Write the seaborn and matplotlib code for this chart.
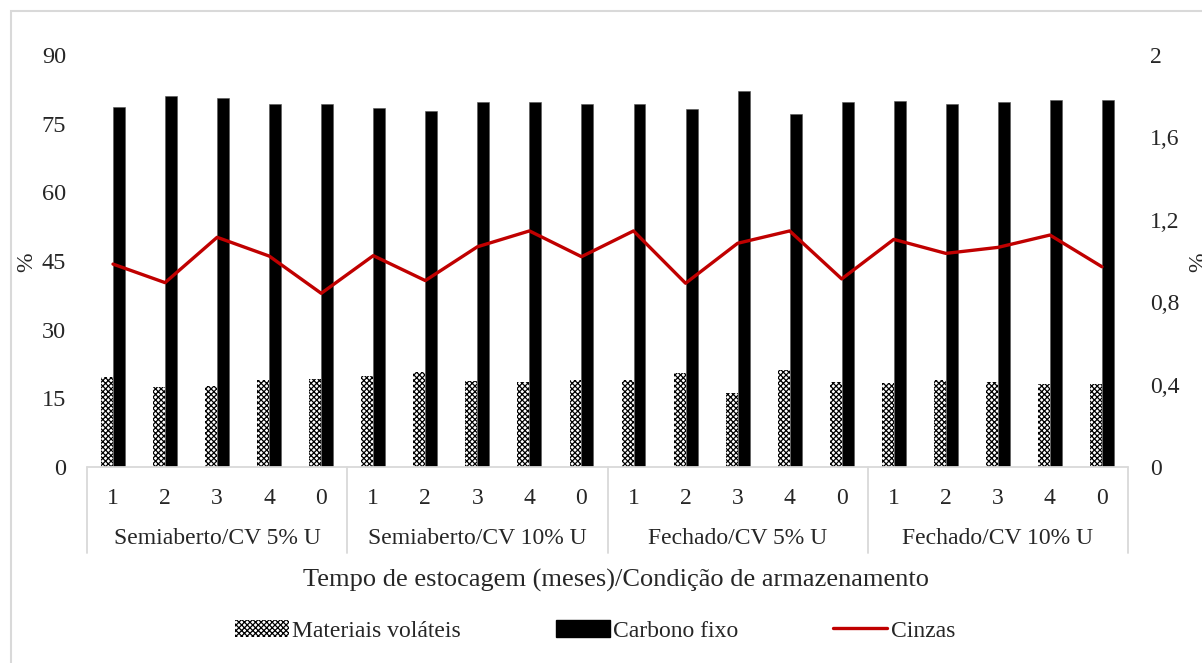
import numpy as np
import pandas as pd
import matplotlib
matplotlib.use("Agg")
import matplotlib.pyplot as plt
import seaborn as sns
from matplotlib.patches import Rectangle, Patch
from matplotlib.lines import Line2D
from matplotlib.ticker import FuncFormatter

# =========================
# Dados
# =========================
grupos = ["Semiaberto/CV 5% U", "Semiaberto/CV 10% U",
          "Fechado/CV 5% U", "Fechado/CV 10% U"]
meses = ["1", "2", "3", "4", "0"]

materiais_volateis = [19.7, 17.5, 17.8, 18.9, 19.2,
                      19.9, 20.7, 18.7, 18.6, 19.1,
                      18.9, 20.5, 16.1, 21.1, 18.6,
                      18.3, 18.9, 18.5, 18.1, 18.1]
carbono_fixo = [78.6, 81.0, 80.5, 79.4, 79.4,
                78.4, 77.8, 79.7, 79.7, 79.3,
                79.4, 78.1, 82.2, 77.1, 79.8,
                79.9, 79.3, 79.8, 80.1, 80.2]
cinzas = [0.985, 0.895, 1.115, 1.024, 0.843,
          1.026, 0.905, 1.069, 1.146, 1.021,
          1.146, 0.892, 1.086, 1.146, 0.913,
          1.105, 1.037, 1.066, 1.126, 0.972]

n = len(carbono_fixo)
pos = np.arange(n)

df_barras = pd.DataFrame({
    "pos": np.concatenate([pos, pos]),
    "valor": materiais_volateis + carbono_fixo,
    "serie": ["Materiais voláteis"] * n + ["Carbono fixo"] * n,
})
df_linha = pd.DataFrame({"pos": pos, "cinzas": cinzas})

# =========================
# Figura
# =========================
sns.set_style("white")
plt.rcParams["font.family"] = ["Liberation Serif", "DejaVu Serif"]
plt.rcParams["hatch.linewidth"] = 0.9

fig = plt.figure(figsize=(12.02, 6.63), dpi=100)
ax = fig.add_axes([87 / 1202, 1 - 467 / 663, (1128 - 87) / 1202, 412 / 663])

sns.barplot(data=df_barras, x="pos", y="valor", hue="serie",
            palette=["white", "black"], width=0.46, gap=0,
            edgecolor="#555555", linewidth=0.4, legend=False, ax=ax)

for p in ax.containers[0]:
    p.set_hatch("xxxxxx")
    p.set_edgecolor("black")
    p.set_linewidth(0)

ax.set_xlim(-0.5, n - 0.5)
ax.set_ylim(0, 90)
ax.set_yticks(np.arange(0, 91, 15))
ax.tick_params(axis="y", length=0, pad=15, labelsize=17.5)
ax.set_xticks(pos)
ax.set_xticklabels(meses * len(grupos))
ax.tick_params(axis="x", length=0, pad=15, labelsize=17)
ax.set_xlabel("")
ax.set_ylabel("")
for s in ax.spines.values():
    s.set_visible(False)

ax2 = ax.twinx()
sns.lineplot(data=df_linha, x="pos", y="cinzas", color="#C00000",
             linewidth=2.4, ax=ax2)
ax2.set_ylim(0, 2)
ax2.set_yticks([0, 0.4, 0.8, 1.2, 1.6, 2])
ax2.yaxis.set_major_formatter(FuncFormatter(
    lambda v, _: ("%g" % v).replace(".", ",")))
ax2.tick_params(axis="y", length=0, pad=16, labelsize=17)
ax2.set_ylabel("")
ax2.set_xlim(-0.5, n - 0.5)
for s in ax2.spines.values():
    s.set_visible(False)

# caixa das categorias
trans = ax.get_xaxis_transform()
fundo = -(553 - 467) / 412
ax.plot([-0.5, n - 0.5], [0, 0], transform=trans, color="#d9d9d9",
        linewidth=1.3, clip_on=False)
for xb in [-0.5, 4.5, 9.5, 14.5, 19.5]:
    ax.plot([xb, xb], [0, fundo], transform=trans, color="#d9d9d9",
            linewidth=1.3, clip_on=False)
for i, g in enumerate(grupos):
    ax.text(i * 5 + 2, -(538 - 467) / 412, g, transform=trans,
            ha="center", va="center", fontsize=17)

fig.text(616 / 1202, 1 - 580 / 663,
         "Tempo de estocagem (meses)/Condição de armazenamento",
         ha="center", va="center", fontsize=19)
fig.text(27 / 1202, 1 - 262 / 663, "%", rotation=90,
         ha="center", va="center", fontsize=17)
fig.text(1199 / 1202, 1 - 262 / 663, "%", rotation=90,
         ha="center", va="center", fontsize=17)

# legenda
handles = [
    Patch(facecolor="white", edgecolor="black", hatch="xxxxxx",
          linewidth=0, label="Materiais voláteis"),
    Patch(facecolor="black", edgecolor="black", label="Carbono fixo"),
    Line2D([0], [0], color="#C00000", linewidth=2.4, label="Cinzas"),
]
fig.legend(handles=handles, loc="center", ncol=3,
           bbox_to_anchor=(595 / 1202, 1 - 631 / 663), frameon=False,
           fontsize=17, handlelength=2.3, handleheight=0.7,
           handletextpad=0.15, columnspacing=4.0)

# moldura externa
fig.patches.append(Rectangle((11 / 1202, -0.1), 1.2, 1 - 11 / 663 + 0.1,
                             transform=fig.transFigure, fill=False,
                             edgecolor="#d9d9d9", linewidth=1.5))

fig.savefig("out.png", dpi=100)
